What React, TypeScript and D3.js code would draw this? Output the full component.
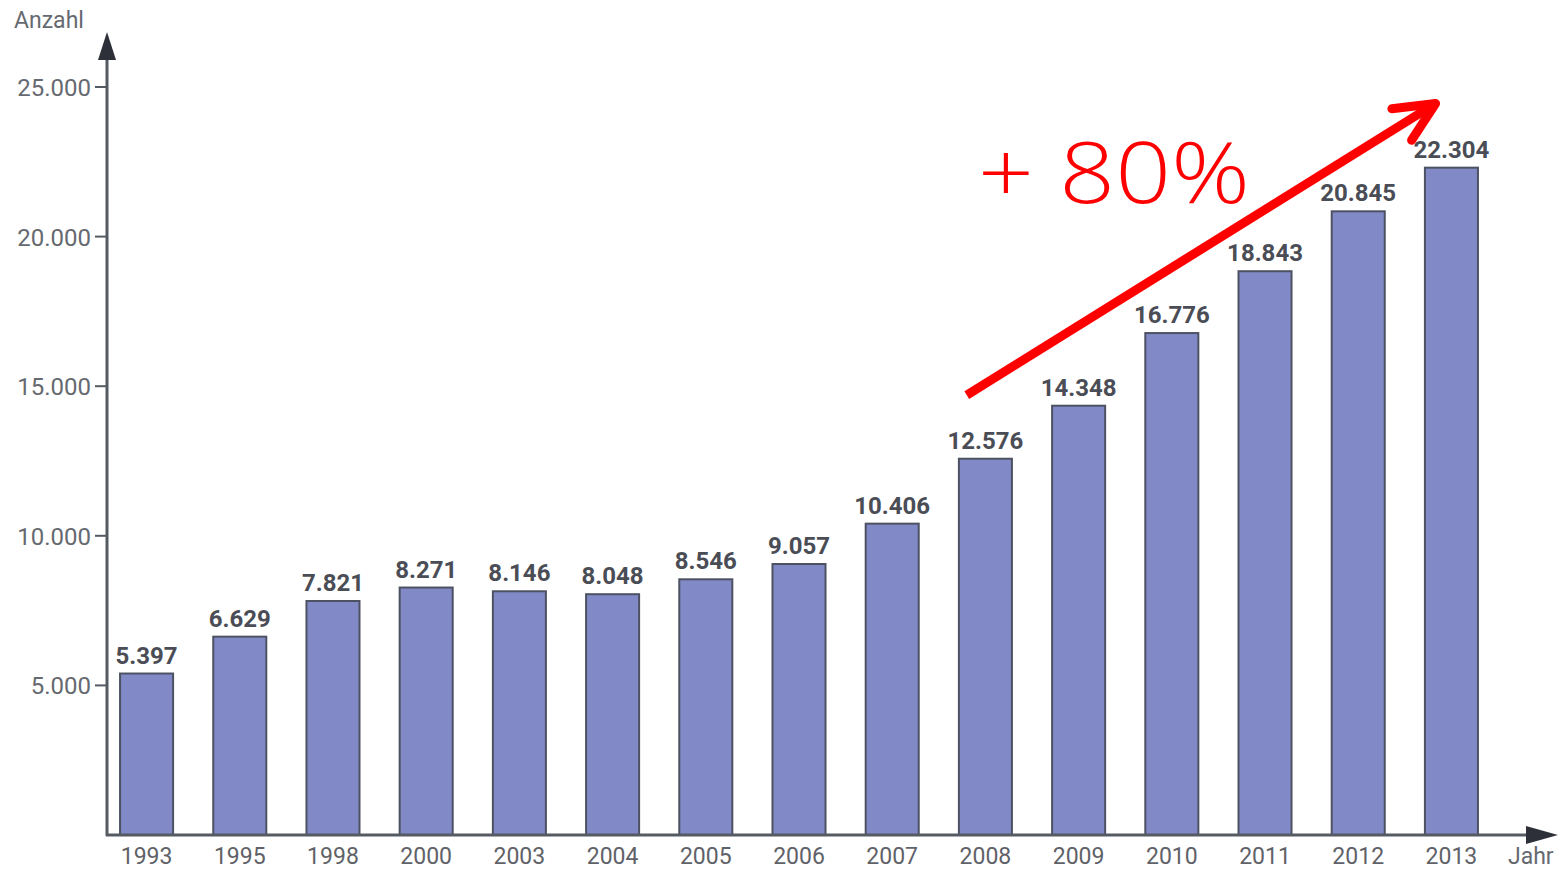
import React from "react";
import * as d3 from "d3";

const years = ["1993","1995","1998","2000","2003","2004","2005","2006","2007","2008","2009","2010","2011","2012","2013"];
const counts = [5397, 6629, 7821, 8271, 8146, 8048, 8546, 9057, 10406, 12576, 14348, 16776, 18843, 20845, 22304];
const yTicks = [5000, 10000, 15000, 20000, 25000];
const yAxisTitle = "Anzahl";
const xAxisTitle = "Jahr";
const annotationText = "+ 80%";
// annotation arrow in data space: [year, offset in steps, value]
const arrowStart: [string, number, number] = ["2008", -0.2, 14700];
const arrowEnd: [string, number, number] = ["2013", -0.17, 24450];

const W = 1568, H = 869;
const fmt = (v: number) => d3.format(",")(v).replace(/,/g, ".");

export default function App() {
  const axisX = 107, axisY = 835;
  const y = d3.scaleLinear().domain([0, 25000]).range([axisY, 87]);
  const x = d3.scaleBand<string>().domain(years).range([axisX, 1491]).paddingInner(0.431).paddingOuter(0.14);
  const step = x.step();
  const px = (a: [string, number, number]) => (x(a[0]) as number) + x.bandwidth() / 2 + a[1] * step;
  const x1 = px(arrowStart), y1 = y(arrowStart[2]);
  const x2 = px(arrowEnd), y2 = y(arrowEnd[2]);
  const ang = Math.atan2(y1 - y2, x1 - x2);
  const armLen = 44, spread = (25 * Math.PI) / 180;
  const a1 = [x2 + armLen * Math.cos(ang + spread), y2 + armLen * Math.sin(ang + spread)];
  const a2 = [x2 + armLen * Math.cos(ang - spread), y2 + armLen * Math.sin(ang - spread)];
  const font = "Roboto, 'DejaVu Sans', sans-serif";
  const axisColor = "#555a63";
  return (
    <svg width={W} height={H} style={{ position: "absolute", left: 0, top: 0, background: "#fff" }}>
      {/* bars */}
      {years.map((yr, i) => (
        <rect key={yr} x={x(yr)} y={y(counts[i])} width={x.bandwidth()} height={axisY - y(counts[i])}
          fill="#8189c6" stroke="#4d5263" strokeWidth={2} />
      ))}
      {/* value labels */}
      {years.map((yr, i) => (
        <text key={"v" + yr} x={(x(yr) as number) + x.bandwidth() / 2} y={y(counts[i]) - 10}
          textAnchor="middle" fontFamily={font} fontWeight={700} fontSize={24} fill="#4a4d55">
          {fmt(counts[i])}
        </text>
      ))}
      {/* x labels */}
      {years.map((yr) => (
        <text key={"x" + yr} x={(x(yr) as number) + x.bandwidth() / 2} y={864}
          textAnchor="middle" fontFamily={font} fontSize={23} fill="#5f6268">
          {yr}
        </text>
      ))}
      {/* axes */}
      <line x1={axisX} y1={axisY + 1} x2={axisX} y2={55} stroke={axisColor} strokeWidth={3} />
      <path d={`M${axisX - 9},${60} L${axisX},${32} L${axisX + 9},${60} Z`} fill="#2d3038" />
      <line x1={axisX - 1} y1={axisY} x2={1530} y2={axisY} stroke={axisColor} strokeWidth={3} />
      <path d={`M1526,${axisY - 9} L1558,${axisY} L1526,${axisY + 9} Z`} fill="#2d3038" />
      {yTicks.map((t) => (
        <g key={"t" + t}>
          <line x1={axisX - 12} x2={axisX} y1={y(t)} y2={y(t)} stroke={axisColor} strokeWidth={2} />
          <text x={axisX - 16} y={y(t) + 9} textAnchor="end" fontFamily={font} fontSize={24} fill="#666a70">
            {fmt(t)}
          </text>
        </g>
      ))}
      <text x={14} y={28} fontFamily={font} fontSize={23} fill="#666a70">{yAxisTitle}</text>
      <text x={1508} y={864} fontFamily={font} fontSize={23} fill="#666a70">{xAxisTitle}</text>
      {/* annotation */}
      <line x1={x1} y1={y1} x2={x2} y2={y2} stroke="#ff0000" strokeWidth={9} />
      <polyline points={`${a1[0]},${a1[1]} ${x2},${y2} ${a2[0]},${a2[1]}`} fill="none" stroke="#ff0000"
        strokeWidth={9} strokeLinecap="round" strokeLinejoin="round" />
      <text x={978} y={203} fontFamily="'Open Sans', Lato, sans-serif" fontWeight={300} fontSize={84} fill="#ff0000"
        textLength={272} lengthAdjust="spacingAndGlyphs">
        {annotationText}
      </text>
    </svg>
  );
}
